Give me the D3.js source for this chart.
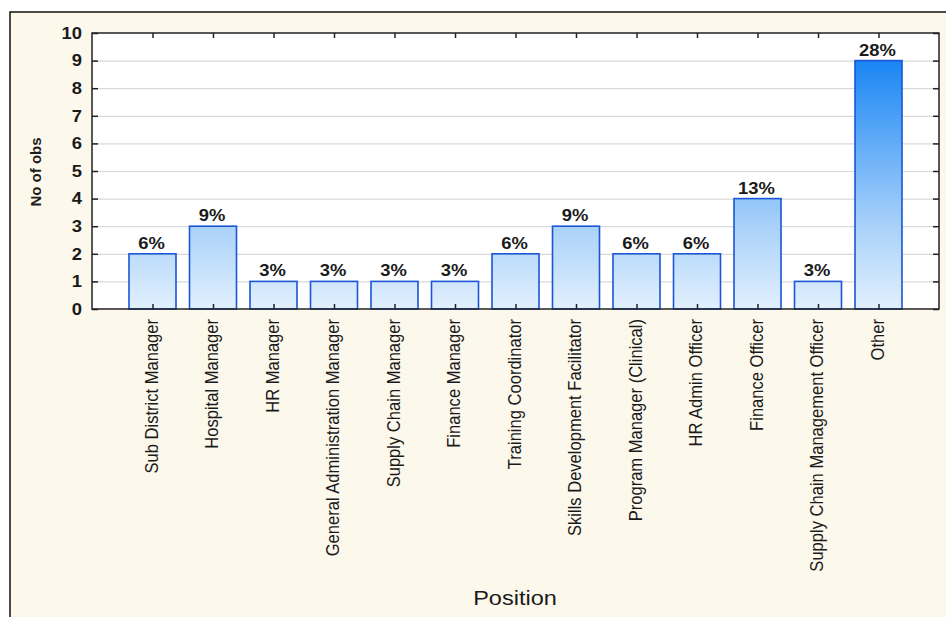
<!DOCTYPE html>
<html>
<head>
<meta charset="utf-8">
<script src="https://cdn.jsdelivr.net/npm/d3@7/dist/d3.min.js"></script>
<style>
  html, body { margin: 0; padding: 0; background: #ffffff; }
  svg { display: block; }
  text { font-family: "Liberation Sans", Arial, sans-serif; fill: #1a1a1a; }
</style>
</head>
<body>
<svg id="chart" width="946" height="617"></svg>
<script>
// Positions held in the survey, with counts and share labels
const positions = [
  "Sub District Manager", "Hospital Manager", "HR Manager",
  "General Administration Manager", "Supply Chain Manager", "Finance Manager",
  "Training Coordinator", "Skills Development Facilitator",
  "Program Manager (Clinical)", "HR Admin Officer", "Finance Officer",
  "Supply Chain Management Officer", "Other"
];
const counts = [2, 3, 1, 1, 1, 1, 2, 3, 2, 2, 4, 1, 9];
const shareLabels = ["6%", "9%", "3%", "3%", "3%", "3%", "6%", "9%", "6%", "6%", "13%", "3%", "28%"];
const yTicks = [0, 1, 2, 3, 4, 5, 6, 7, 8, 9, 10];

const svg = d3.select("#chart");
const W = 946, H = 617;
const plot = { left: 92, right: 939, top: 33, bottom: 309 };
// Horizontal text is drawn slightly wide, vertical text slightly narrow
const wideX = 1.15, narrowY = 0.92;

// Cream panel with its dark frame on top and left
svg.append("rect").attr("x", 10).attr("y", 12).attr("width", W - 10).attr("height", H - 12)
  .attr("fill", "#fdf8ec");
svg.append("path").attr("d", `M10,${H} V12 H${W}`).attr("fill", "none")
  .attr("stroke", "#111").attr("stroke-width", 1.5);

const x = d3.scalePoint().domain(positions).range([plot.left, plot.right]).padding(1);
const y = d3.scaleLinear().domain([0, 10]).range([plot.bottom, plot.top]);

// Plot background
svg.append("rect").attr("x", plot.left).attr("y", plot.top)
  .attr("width", plot.right - plot.left).attr("height", plot.bottom - plot.top)
  .attr("fill", "#ffffff");

// Vertical gradient shared by all bars, tied to the value scale
const defs = svg.append("defs");
const grad = defs.append("linearGradient").attr("id", "barFill")
  .attr("gradientUnits", "userSpaceOnUse")
  .attr("x1", 0).attr("x2", 0).attr("y1", y(0)).attr("y2", y(9));
grad.append("stop").attr("offset", "0%").attr("stop-color", "#e2f0fd");
grad.append("stop").attr("offset", "35%").attr("stop-color", "#a6d0fa");
grad.append("stop").attr("offset", "100%").attr("stop-color", "#1a86f4");

// Horizontal gridlines
svg.append("g")
  .attr("transform", `translate(${plot.left},0)`)
  .call(d3.axisLeft(y).tickValues(yTicks.slice(1, -1)).tickSize(-(plot.right - plot.left)).tickFormat(""))
  .call(g => g.select(".domain").remove())
  .call(g => g.selectAll("line").attr("stroke", "#d9d9d9").attr("stroke-width", 1.2));

// Bars
const barW = 47;
svg.append("g").selectAll("rect").data(positions).join("rect")
  .attr("x", (d) => x(d) - barW / 2)
  .attr("y", (d, i) => y(counts[i]))
  .attr("width", barW)
  .attr("height", (d, i) => y(0) - y(counts[i]))
  .attr("fill", "url(#barFill)")
  .attr("stroke", "#1a56d6").attr("stroke-width", 1.6);

// Share labels above the bars
svg.append("g").selectAll("text").data(positions).join("text")
  .attr("transform", (d, i) => `translate(${x(d) - 1},${y(counts[i]) - 5}) scale(${wideX},1)`)
  .attr("text-anchor", "middle")
  .attr("font-size", 16)
  .attr("font-weight", "bold")
  .attr("fill", "#222")
  .text((d, i) => shareLabels[i]);

// Plot frame
svg.append("rect").attr("x", plot.left).attr("y", plot.top)
  .attr("width", plot.right - plot.left).attr("height", plot.bottom - plot.top)
  .attr("fill", "none").attr("stroke", "#222").attr("stroke-width", 1.5);

// Left axis: inner ticks and numbers
svg.append("g").attr("transform", `translate(${plot.left},0)`)
  .call(d3.axisRight(y).tickValues(yTicks).tickSize(6).tickFormat(""))
  .call(g => g.select(".domain").remove())
  .call(g => g.selectAll("line").attr("stroke", "#222").attr("stroke-width", 1.5));
svg.append("g").selectAll("text").data(yTicks).join("text")
  .attr("transform", (d) => `translate(${plot.left - 10},${y(d)}) scale(${wideX},1)`)
  .attr("dy", "0.36em")
  .attr("text-anchor", "end")
  .attr("font-size", 16)
  .attr("font-weight", "bold")
  .text((d) => d3.format("d")(d));

// Right axis: inward ticks
svg.append("g").attr("transform", `translate(${plot.right},0)`)
  .call(d3.axisLeft(y).tickValues(yTicks).tickSize(6).tickFormat(""))
  .call(g => g.select(".domain").remove())
  .call(g => g.selectAll("line").attr("stroke", "#222").attr("stroke-width", 1.5));

// Top axis: inward ticks at each category
svg.append("g").attr("transform", `translate(0,${plot.top})`)
  .call(d3.axisBottom(x).tickSize(5).tickFormat(""))
  .call(g => g.select(".domain").remove())
  .call(g => g.selectAll("line").attr("stroke", "#222").attr("stroke-width", 1.5));

// Bottom axis: inward ticks plus rotated category names
svg.append("g").attr("transform", `translate(0,${plot.bottom})`)
  .call(d3.axisTop(x).tickSize(5).tickFormat(""))
  .call(g => g.select(".domain").remove())
  .call(g => g.selectAll("line").attr("stroke", "#222").attr("stroke-width", 1.5));

svg.append("g").selectAll("text").data(positions).join("text")
  .attr("transform", (d) => `translate(${x(d) + 5},${plot.bottom + 10}) rotate(-90) scale(${narrowY},1)`)
  .attr("text-anchor", "end")
  .attr("font-size", 18)
  .text((d) => d);

// Axis titles
svg.append("text")
  .attr("transform", `translate(41,172) rotate(-90)`)
  .attr("text-anchor", "middle")
  .attr("font-size", 15)
  .attr("font-weight", "bold")
  .text("No of obs");

svg.append("text")
  .attr("transform", `translate(515,605) scale(1.12,1)`)
  .attr("text-anchor", "middle")
  .attr("font-size", 21)
  .text("Position");
</script>
</body>
</html>
